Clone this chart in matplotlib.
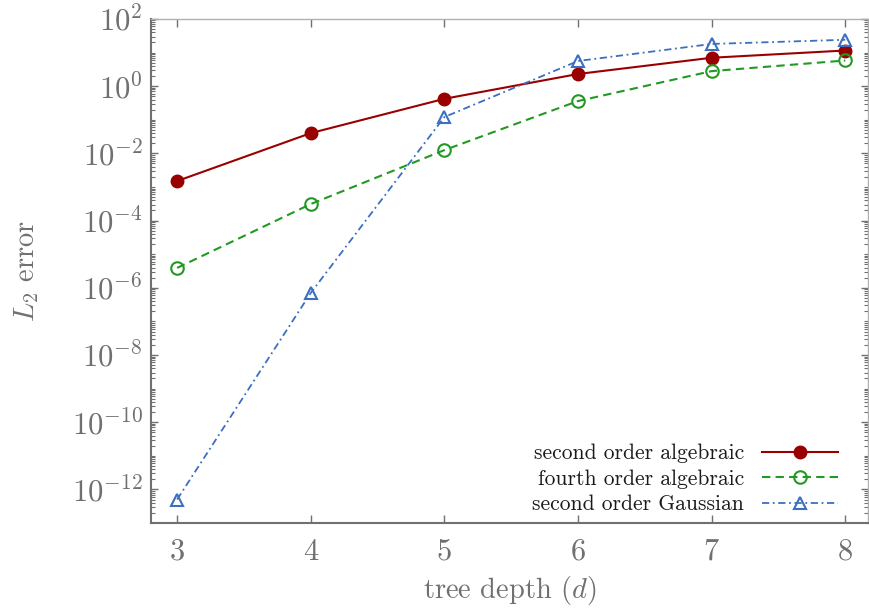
import numpy as np
import matplotlib
matplotlib.use('Agg')
import matplotlib.pyplot as plt
from matplotlib.ticker import LogLocator, NullFormatter

plt.rcParams['font.family'] = 'serif'
plt.rcParams['font.serif'] = ['cmr10']
plt.rcParams['mathtext.fontset'] = 'cm'
plt.rcParams['axes.formatter.use_mathtext'] = True

depth = [3, 4, 5, 6, 7, 8]
err_alg2 = [1.5e-3, 4.0e-2, 0.42, 2.3, 7.0, 11.5]
err_alg4 = [3.9e-6, 3.1e-4, 1.25e-2, 0.36, 2.8, 5.8]
err_gauss2 = [5.0e-13, 7.0e-7, 0.12, 5.6, 18.0, 24.0]

grey = '#707070'
light = '#b0b0b0'

fig = plt.figure(figsize=(8.69, 6.11), dpi=100)
ax = fig.add_axes([0.1738, 0.144, 0.825, 0.825])

ax.plot(depth, err_alg2, '-', color='#990000', lw=1.5, marker='o', ms=9,
        label='second order algebraic')
ax.plot(depth, err_alg4, '--', color='#229922', lw=1.5, marker='o', ms=9,
        mfc='none', mew=1.5, dashes=(4, 2.5), label='fourth order algebraic')
ax.plot(depth, err_gauss2, '-.', color='#3b6fbf', lw=1.3, marker='^', ms=9,
        mfc='none', mew=1.5, dashes=(4, 2, 1, 2), label='second order Gaussian')

ax.set_yscale('log')
ax.set_xlim(2.805, 8.17)
ax.set_ylim(1e-13, 1e2)
ax.set_xticks(depth)
ax.yaxis.set_major_locator(LogLocator(base=100, numticks=20))
ax.yaxis.set_minor_locator(LogLocator(base=10, subs=np.arange(1, 10), numticks=200))
ax.yaxis.set_minor_formatter(NullFormatter())

for side in ['left', 'bottom']:
    ax.spines[side].set_color(grey)
    ax.spines[side].set_linewidth(1.5)
for side in ['top', 'right']:
    ax.spines[side].set_color(light)
    ax.spines[side].set_linewidth(1.0)

ax.tick_params(which='both', direction='in', top=True, right=True, color=grey,
               labelcolor=grey, labelsize=22)
ax.tick_params(axis='x', which='major', length=6, width=1.0, pad=11)
ax.tick_params(axis='y', which='major', length=5, width=1.0, pad=6)
ax.tick_params(axis='y', which='minor', length=3, width=0.8)

ax.set_xlabel('tree depth ($d$)', color=grey, fontsize=20.5, labelpad=6)
ax.set_ylabel('$L_2$ error', color=grey, fontsize=20.5, labelpad=22)

leg = ax.legend(loc='lower right', bbox_to_anchor=(0.970, 0.0), frameon=False,
                markerfirst=False, fontsize=15.5, handlelength=3.5,
                handletextpad=0.85, labelspacing=0.28, borderaxespad=0.0)
for t in leg.get_texts():
    t.set_color('#1a1a1a')

fig.savefig('out.png', dpi=100)
